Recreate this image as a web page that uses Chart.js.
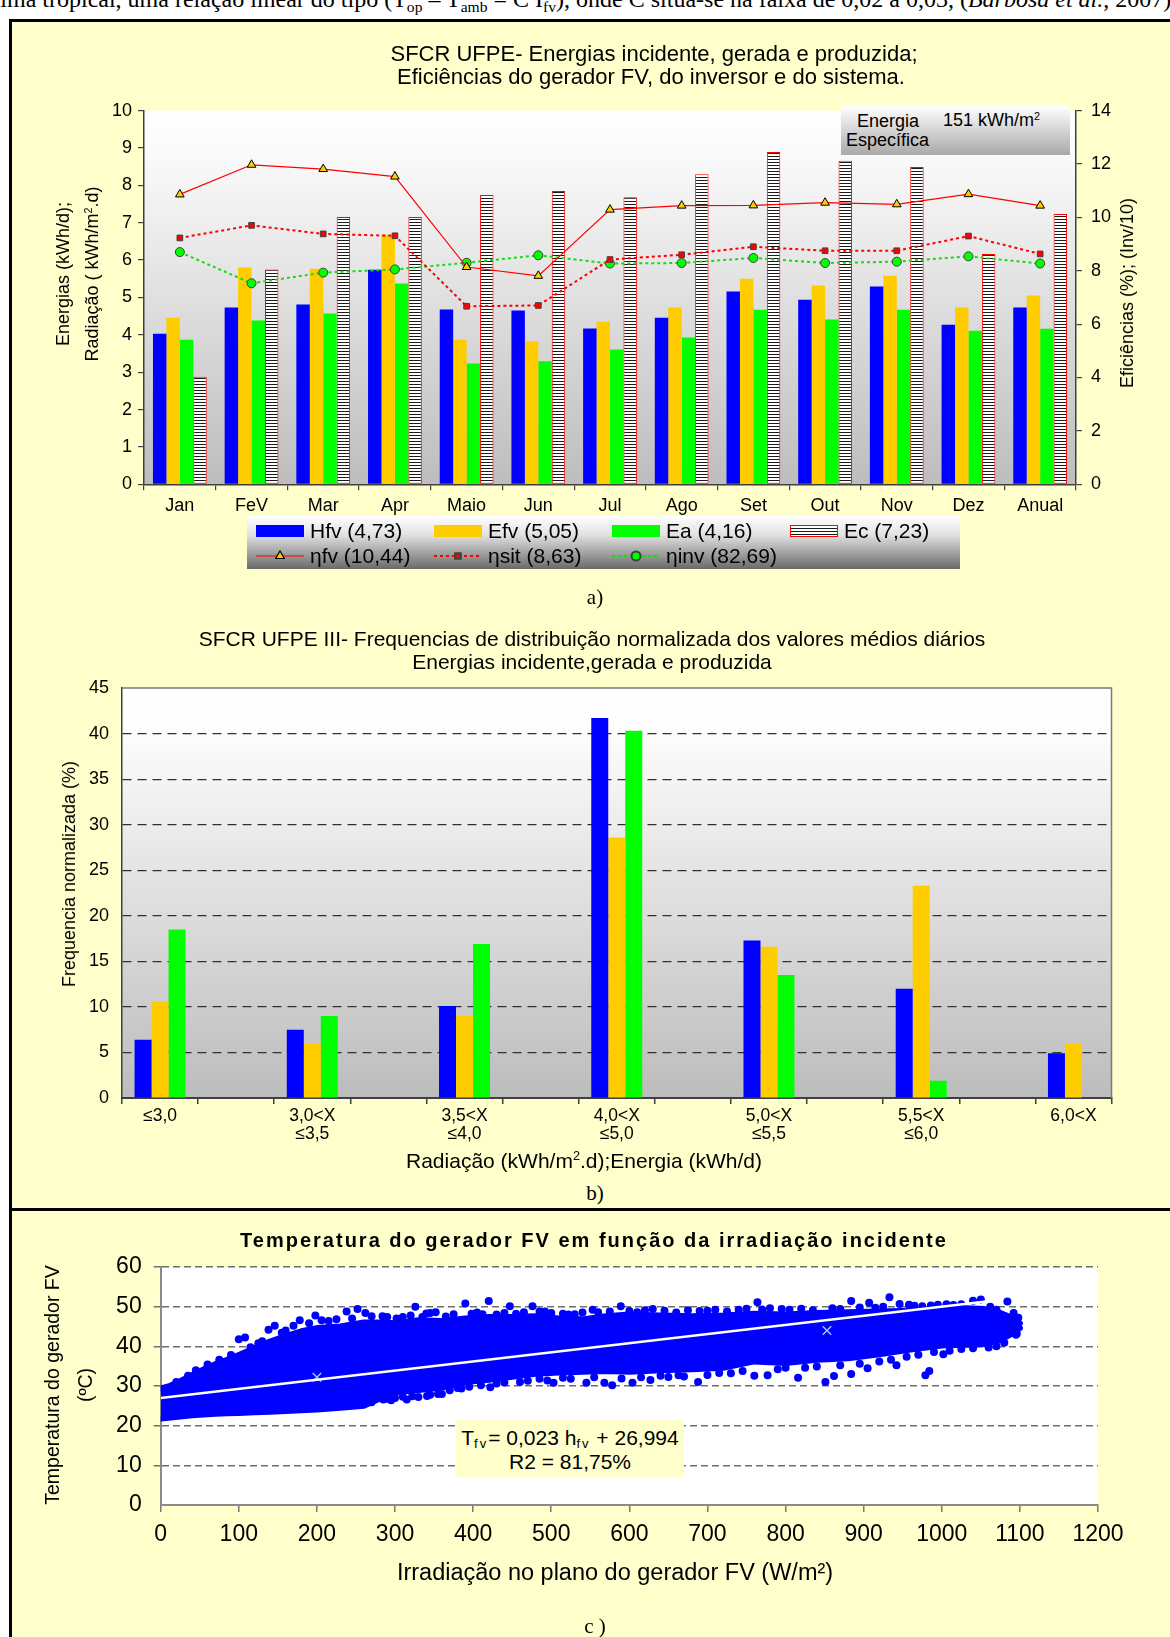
<!DOCTYPE html>
<html lang="pt">
<head>
<meta charset="utf-8">
<title>SFCR UFPE – energias, eficiências e temperatura</title>
<script src="https://cdn.jsdelivr.net/npm/chart.js@4.4.1/dist/chart.umd.min.js"></script>
<style>
  html, body { margin:0; padding:0; background:#fff; }
  #page { position:relative; width:1170px; height:1637px; overflow:hidden; font-family:"Liberation Sans", Arial, sans-serif; color:#000; }
  #frame { position:absolute; left:9px; top:19px; width:1200px; height:1700px; box-sizing:border-box; border:3px solid #000; background:#FFFFCC; }
  #rule { position:absolute; left:9px; top:1208px; width:1200px; height:3px; background:#000; }
  #prev { position:absolute; left:-17px; top:-13px; white-space:nowrap; font:24px/24px "Liberation Serif", serif; }
  #prev sub { font-size:65%; vertical-align:-0.3em; line-height:0; }
  canvas { position:absolute; left:0; }
  .t { position:absolute; white-space:nowrap; transform:translate(-50%,-50%); line-height:1; }
  .r { transform:translate(-50%,-50%) rotate(-90deg); }
  .cap { font-family:"Liberation Serif", serif; font-size:21px; }
  sup { font-size:60%; vertical-align:0.6em; line-height:0; }
  .eqs { font-size:62%; vertical-align:-0.3em; line-height:0; letter-spacing:2px; }
  #spec { position:absolute; left:841px; top:106px; width:229px; height:49px; background:linear-gradient(#ffffff, #a9a9a9); font-size:18px; }
  #spec div { position:absolute; white-space:nowrap; line-height:1; }
  #eq { position:absolute; left:456px; top:1420px; width:228px; height:57px; background:#FFFFCC; font-size:21px; }
</style>
</head>
<body>
<div id="page">
  <div id="prev">clima tropical, uma relação linear do tipo (T<sub>op</sub> – T<sub>amb</sub> = C I<sub>fv</sub>), onde C situa-se na faixa de 0,02 a 0,03, (<i>Barbosa et al.</i>, 2007)</div>
  <div id="frame"></div>
  <div id="rule"></div>

  <canvas id="chartA" width="1170" height="600" style="top:0"></canvas>
  <canvas id="chartB" width="1170" height="590" style="top:590px"></canvas>
  <canvas id="chartC" width="1170" height="425" style="top:1212px"></canvas>

  <!-- a) -->
  <div class="t" style="left:654px;top:54px;font-size:22px">SFCR UFPE- Energias incidente, gerada e produzida;</div>
  <div class="t" style="left:651px;top:77px;font-size:22px">Eficiências do gerador FV, do inversor e do sistema.</div>
  <div class="t r" style="left:63px;top:274px;font-size:18px">Energias (kWh/d);</div>
  <div class="t r" style="left:92px;top:274px;font-size:18px">Radiação ( kWh/m<sup>2</sup>.d)</div>
  <div class="t r" style="left:1127px;top:293px;font-size:18px">Eficiências (%); (Inv/10)</div>
  <div id="spec">
    <div style="left:16px;top:6px">Energia</div>
    <div style="left:102px;top:5px">151 kWh/m<sup>2</sup></div>
    <div style="left:5px;top:25px">Específica</div>
  </div>
  <div class="t cap" style="left:595px;top:597px">a)</div>

  <!-- b) -->
  <div class="t" style="left:592px;top:638px;font-size:21px">SFCR UFPE III- Frequencias de distribuição normalizada dos valores médios diários</div>
  <div class="t" style="left:592px;top:661px;font-size:21px">Energias incidente,gerada e produzida</div>
  <div class="t r" style="left:69px;top:874px;font-size:18px">Frequencia normalizada (%)</div>
  <div class="t" style="left:584px;top:1160px;font-size:21px">Radiação (kWh/m<sup>2</sup>.d);Energia (kWh/d)</div>
  <div class="t cap" style="left:595px;top:1193px">b)</div>

  <!-- c) -->
  <div class="t" style="left:594px;top:1240px;font-size:20px;font-weight:bold;letter-spacing:2px">Temperatura do gerador FV em função da irradiação incidente</div>
  <div class="t r" style="left:53px;top:1385px;font-size:19.5px">Temperatura do gerador FV</div>
  <div class="t r" style="left:86px;top:1385px;font-size:19.5px">(ºC)</div>
  <div class="t" style="left:615px;top:1573px;font-size:23.5px">Irradiação no plano do gerador FV (W/m²)</div>
  <div id="eq">
    <div class="t" style="left:114px;top:17px">T<span class="eqs">fv</span>= 0,023 h<span class="eqs">fv</span> + 26,994</div>
    <div class="t" style="left:114px;top:41px">R2 = 81,75%</div>
  </div>
  <div class="t cap" style="left:595px;top:1626px">c )</div>
</div>

<script>
// ---------- a) monthly energies (kWh/d, kWh/m².d) and efficiencies ----------
const months = ['Jan','FeV','Mar','Apr','Maio','Jun','Jul','Ago','Set','Out','Nov','Dez','Anual'];
const hfv    = [4.03, 4.73, 4.81, 5.74, 4.68, 4.65, 4.17, 4.46, 5.16, 4.94, 5.29, 4.27, 4.73];
const efv    = [4.46, 5.80, 5.77, 6.68, 3.87, 3.82, 4.35, 4.73, 5.50, 5.32, 5.58, 4.73, 5.05];
const ea     = [3.87, 4.38, 4.57, 5.37, 3.23, 3.29, 3.61, 3.93, 4.67, 4.41, 4.67, 4.11, 4.16];
const ec     = [2.88, 5.75, 7.15, 7.15, 7.74, 7.85, 7.68, 8.30, 8.89, 8.66, 8.49, 6.16, 7.23];
const etaFv  = [10.86, 11.97, 11.81, 11.53, 8.14, 7.81, 10.29, 10.44, 10.45, 10.55, 10.49, 10.87, 10.44];
const etaSit = [9.23, 9.70, 9.38, 9.31, 6.67, 6.70, 8.42, 8.60, 8.90, 8.75, 8.75, 9.30, 8.63];
const etaInv = [8.70, 7.53, 7.93, 8.05, 8.30, 8.58, 8.27, 8.29, 8.48, 8.29, 8.34, 8.54, 8.27];
const seriesNamesA = ['Hfv (4,73)', 'Efv (5,05)', 'Ea (4,16)', 'Ec (7,23)', 'ηfv (10,44)', 'ηsit (8,63)', 'ηinv (82,69)'];

// ---------- b) normalized frequency of daily mean values (%) ----------
const ranges  = [['≤3,0'], ['3,0<X','≤3,5'], ['3,5<X','≤4,0'], ['4,0<X','≤5,0'], ['5,0<X','≤5,5'], ['5,5<X','≤6,0'], ['6,0<X']];
const freqHfv = [6.4, 7.5, 10.1, 41.7, 17.3, 12.0, 4.9];
const freqEfv = [10.6, 6.0, 9.0, 28.6, 16.6, 23.3, 6.0];
const freqEa  = [18.5, 9.0, 16.9, 40.3, 13.5, 1.9, 0];

// ---------- c) PV generator temperature (ºC) vs plane irradiance (W/m²) ----------
// outline of the dense cloud of measurements
const cloudX      = [0, 10, 25, 40, 55, 70, 85, 100, 120, 140, 160, 180, 200, 230, 260, 280, 300, 330, 360, 390, 420, 450, 480, 510, 540, 570, 600, 640, 680, 720, 760, 800, 840, 880, 920, 960, 1000, 1030, 1055, 1075, 1090, 1100];
const cloudTop    = [29.4, 29.9, 31.2, 32.7, 34.2, 35.5, 36.6, 37.8, 39.5, 41.2, 42.6, 43.8, 44.6, 45.0, 46.0, 46.0, 45.8, 46.6, 46.4, 47.0, 47.4, 47.4, 47.6, 47.0, 46.8, 47.6, 48.0, 47.8, 47.6, 47.8, 48.2, 48.0, 48.4, 48.6, 48.8, 49.0, 49.2, 49.6, 49.4, 48.4, 47.2, 45.8];
const cloudBottom = [21.8, 22.0, 22.3, 22.6, 22.8, 23.0, 23.1, 23.2, 23.4, 23.5, 23.7, 23.9, 24.1, 24.5, 25.0, 26.8, 28.4, 29.0, 29.6, 31.0, 31.6, 32.3, 33.1, 33.4, 33.6, 33.8, 33.6, 34.0, 34.2, 34.6, 36.2, 35.8, 36.6, 37.0, 38.0, 39.2, 40.2, 40.4, 40.6, 41.6, 43.2, 44.6];
// isolated readings standing out of the cloud
const strayX = [100, 108, 138, 146, 178, 198, 206, 238, 252, 262, 284, 302, 326, 340, 352, 390, 398, 420, 447, 476, 492, 522, 553, 589, 630, 700, 764, 780, 884, 907, 933, 946, 958, 986, 1006, 1040, 1050, 1084, 1092, 1098, 1097, 1096,
                280, 290, 300, 315, 330, 341, 360, 380, 422, 460, 503, 545, 568, 578, 604, 627, 663, 688, 730, 760, 777, 816, 851, 862, 884, 905, 942, 979, 984, 1002, 1070,
                20, 35, 45, 60, 75, 90, 115, 125, 130, 155, 160, 170, 190, 215, 225, 245, 270, 290, 310, 320, 335, 345, 365, 375, 405, 412, 430, 440, 455, 465, 485, 500, 515, 530, 540, 560, 575, 600, 610, 620, 645, 660, 675, 690, 710, 725, 740, 750, 770, 795, 805, 820, 835, 860, 870, 895, 915, 925, 965, 975, 995, 1015, 1025, 1062, 1070,
                270, 285, 295, 310, 322, 345, 355, 370, 385, 395, 410, 430, 440, 470, 485, 495, 515, 525, 555, 590, 615, 640, 650, 670, 700, 715, 745, 790, 800, 825, 840, 870, 895, 920, 935, 955, 970, 990, 1010, 1025, 1040, 1060, 1080, 1095];
const strayY = [41.8, 42.2, 44.2, 45.2, 46.6, 47.8, 46.6, 48.8, 49.4, 48.4, 47.6, 47.0, 50.0, 48.3, 48.6, 50.8, 48.2, 51.4, 50.1, 50.1, 48.8, 48.0, 49.2, 50.1, 49.4, 49.0, 51.1, 49.6, 51.4, 51.0, 52.4, 50.7, 50.5, 50.3, 50.6, 51.5, 51.8, 51.3, 48.4, 47.2, 44.6, 43.2,
                27.0, 26.8, 27.0, 26.6, 27.2, 27.5, 28.0, 29.5, 29.7, 31.0, 30.8, 30.8, 30.8, 30.2, 30.8, 31.5, 32.7, 31.0, 33.2, 32.6, 32.7, 32.1, 31.0, 32.5, 33.0, 34.5, 35.2, 32.7, 33.8, 38.0, 40.0,
                31.0, 32.6, 34.0, 35.4, 36.6, 37.8, 39.8, 40.8, 41.3, 43.4, 44.0, 45.2, 45.8, 46.4, 46.8, 47.0, 47.6, 47.4, 47.4, 47.8, 47.4, 48.4, 47.5, 48.1, 48.5, 48.1, 48.0, 48.4, 48.2, 48.6, 48.8, 48.4, 48.2, 48.1, 48.5, 48.6, 48.8, 48.9, 48.6, 49.1, 49.0, 48.5, 49.1, 48.9, 49.2, 48.8, 49.2, 49.5, 49.3, 49.4, 49.2, 49.5, 49.1, 49.6, 49.4, 49.8, 49.7, 50.0, 50.2, 50.1, 50.5, 50.4, 50.6, 50.0, 49.2,
                25.9, 26.6, 26.4, 27.3, 27.4, 27.8, 28.0, 28.9, 29.4, 29.8, 30.2, 30.6, 30.9, 31.3, 31.8, 31.4, 32.1, 31.8, 32.2, 31.9, 32.2, 32.6, 32.3, 32.4, 32.8, 33.3, 33.8, 34.2, 34.6, 34.6, 34.9, 35.2, 35.6, 36.2, 36.6, 37.4, 37.9, 38.6, 38.9, 39.3, 39.5, 39.7, 40.9, 42.9];
// linear fit T = 0,023 h + 26,994 over the measured range
const fitSlope = 0.023, fitIntercept = 26.994, fitRange = [0, 1062];
const markX = [200, 853], markY = [32.2, 44.0];

// ---------- shared helpers ----------
Chart.defaults.font.family = '"Liberation Sans", Arial, sans-serif';
Chart.defaults.color = '#000';

const stripes = (() => {
  const c = document.createElement('canvas'); c.width = 4; c.height = 3;
  const g = c.getContext('2d');
  g.fillStyle = '#ffffff'; g.fillRect(0, 0, 4, 3);
  g.fillStyle = '#1a1a1a'; g.fillRect(0, 0, 4, 1);
  return g.createPattern(c, 'repeat');
})();

// gradient behind the plotting area
const plotBg = {
  id: 'plotBg',
  beforeDraw(chart, args, o) {
    const { ctx, chartArea: a } = chart;
    const g = ctx.createLinearGradient(0, a.top, 0, a.bottom);
    o.stops.forEach(([s, c]) => g.addColorStop(s, c));
    ctx.save(); ctx.fillStyle = g;
    ctx.fillRect(a.left, a.top, a.right - a.left, a.bottom - a.top);
    ctx.restore();
  }
};

// thin frame on the top and right side of the plotting area
const plotFrame = {
  id: 'plotFrame',
  afterDatasetsDraw(chart, args, o) {
    if (!o.color) return;
    const { ctx, chartArea: a } = chart;
    ctx.save(); ctx.strokeStyle = o.color; ctx.lineWidth = o.width;
    ctx.beginPath(); ctx.moveTo(a.left, a.top); ctx.lineTo(a.right, a.top); ctx.lineTo(a.right, a.bottom); ctx.stroke();
    ctx.restore();
  }
};

// boxed legend built from the dataset styles
const boxLegend = {
  id: 'boxLegend',
  afterDraw(chart, args, o) {
    const ctx = chart.ctx;
    ctx.save();
    const g = ctx.createLinearGradient(0, o.y, 0, o.y + o.h);
    o.fill.forEach(([s, c]) => g.addColorStop(s, c));
    ctx.fillStyle = g; ctx.fillRect(o.x, o.y, o.w, o.h);
    if (o.stroke) { ctx.strokeStyle = o.stroke; ctx.lineWidth = 1.5; ctx.strokeRect(o.x + .75, o.y + .75, o.w - 1.5, o.h - 1.5); }
    ctx.font = o.font; ctx.textBaseline = 'middle'; ctx.textAlign = 'left';
    chart.data.datasets.forEach((ds, i) => {
      const [sx, sy] = o.slots[i];
      if (ds.type === 'line') {
        ctx.strokeStyle = ds.borderColor; ctx.lineWidth = ds.borderWidth; ctx.setLineDash(ds.borderDash || []);
        ctx.beginPath(); ctx.moveTo(sx, sy); ctx.lineTo(sx + o.sw, sy); ctx.stroke(); ctx.setLineDash([]);
        ctx.fillStyle = ds.pointBackgroundColor; ctx.strokeStyle = ds.pointBorderColor;
        Chart.helpers.drawPoint(ctx, { pointStyle: ds.pointStyle, radius: ds.pointRadius, borderWidth: ds.pointBorderWidth, rotation: 0 }, sx + o.sw / 2, sy);
      } else {
        ctx.fillStyle = ds.backgroundColor; ctx.fillRect(sx, sy - o.sh / 2, o.sw, o.sh);
        if (ds.borderWidth) { ctx.strokeStyle = ds.borderColor; ctx.lineWidth = 1; ctx.strokeRect(sx + .5, sy - o.sh / 2 + .5, o.sw - 1, o.sh - 1); }
      }
      ctx.fillStyle = '#000';
      ctx.fillText(ds.label, sx + o.sw + o.gap, sy + 1);
    });
    ctx.restore();
  }
};

const base = { responsive: false, animation: false, events: [] };

// ---------- chart a ----------
const barA = (label, data, color, extra) => Object.assign({ type: 'bar', label, data, backgroundColor: color, borderWidth: 0, yAxisID: 'y', order: 1, categoryPercentage: 0.75, barPercentage: 1.0 }, extra || {});
const lineA = (label, data, extra) => Object.assign({ type: 'line', label, data, yAxisID: 'y2', order: 0, tension: 0, fill: false, pointBorderWidth: 1 }, extra);

new Chart(document.getElementById('chartA'), {
  data: {
    labels: months,
    datasets: [
      barA(seriesNamesA[0], hfv, '#0000FF'),
      barA(seriesNamesA[1], efv, '#FFCC00'),
      barA(seriesNamesA[2], ea, '#00FF00'),
      barA(seriesNamesA[3], ec, stripes, { borderColor: '#FF0000', borderWidth: 1, borderSkipped: false }),
      lineA(seriesNamesA[4], etaFv, { borderColor: '#FF0000', borderWidth: 1.2, pointStyle: 'triangle', pointRadius: 5, pointBackgroundColor: '#FFCC00', pointBorderColor: '#000' }),
      lineA(seriesNamesA[5], etaSit, { borderColor: '#FF0000', borderWidth: 2, borderDash: [3, 3], pointStyle: 'rect', pointRadius: 4, pointBackgroundColor: '#FF0000', pointBorderColor: '#404040' }),
      lineA(seriesNamesA[6], etaInv, { borderColor: '#11DD11', borderWidth: 2, borderDash: [3, 3], pointStyle: 'circle', pointRadius: 4.5, pointBackgroundColor: '#00FF00', pointBorderColor: '#404040' })
    ]
  },
  options: Object.assign({}, base, {
    layout: { padding: { top: 110.6, left: 0, right: 0, bottom: 0 } },
    scales: {
      x: {
        grid: { offset: true, drawOnChartArea: false, tickLength: 6, color: '#404040', lineWidth: 1.2 },
        border: { color: '#404040', width: 1.5 },
        ticks: { font: { size: 18 }, padding: 5, autoSkip: false, maxRotation: 0 },
        afterFit(s) { s.height = 115.7; }
      },
      y: {
        position: 'left', min: 0, max: 10,
        ticks: { stepSize: 1, font: { size: 18 }, padding: 6 },
        grid: { drawOnChartArea: false, tickLength: 6, color: '#404040', lineWidth: 1.2 },
        border: { color: '#404040', width: 1.5 },
        afterFit(s) { s.width = 144; }
      },
      y2: {
        position: 'right', min: 0, max: 14,
        ticks: { stepSize: 2, font: { size: 18 }, padding: 9 },
        grid: { drawOnChartArea: false, tickLength: 6, color: '#404040', lineWidth: 1.2 },
        border: { color: '#404040', width: 1.5 },
        afterFit(s) { s.width = 94; }
      }
    },
    plugins: {
      legend: { display: false }, tooltip: { enabled: false }, title: { display: false },
      plotBg: { stops: [[0, '#ffffff'], [0.15, '#f8f8f8'], [1, '#bdbdbd']] },
      boxLegend: {
        x: 247, y: 516, w: 713, h: 53, sw: 48, sh: 12, gap: 6,
        font: '21px "Liberation Sans", Arial, sans-serif',
        fill: [[0, '#ffffff'], [0.35, '#e2e2e2'], [1, '#6a6a6a']],
        slots: [[256, 531], [434, 531], [612, 531], [790, 531], [256, 556], [434, 556], [612, 556]]
      }
    }
  }),
  plugins: [plotBg, boxLegend]
});

// ---------- chart b ----------
// each range gets a slot, with an empty half-slot between ranges
const slotLabels = ranges.flatMap((r, i) => i < ranges.length - 1 ? [r, ''] : [r]);
const spread = vals => vals.flatMap((v, i) => i < vals.length - 1 ? [v, null] : [v]);
const barB = (label, data, color) => ({ type: 'bar', label, data: spread(data), backgroundColor: color, borderWidth: 0, categoryPercentage: 0.67, barPercentage: 1.0 });

new Chart(document.getElementById('chartB'), {
  type: 'bar',
  data: {
    labels: slotLabels,
    datasets: [barB('Hfv', freqHfv, '#0000FF'), barB('Efv', freqEfv, '#FFCC00'), barB('Ea', freqEa, '#00FF00')]
  },
  options: Object.assign({}, base, {
    layout: { padding: { top: 98, left: 0, right: 58.5, bottom: 0 } },
    scales: {
      x: {
        grid: { offset: true, drawOnChartArea: false, tickLength: 6, color: '#404040', lineWidth: 1.5 },
        border: { color: '#404040', width: 2 },
        ticks: { font: { size: 17.5, lineHeight: 1.05 }, padding: 3, autoSkip: false, maxRotation: 0 },
        afterFit(s) { s.height = 82; }
      },
      y: {
        min: 0, max: 45,
        ticks: { stepSize: 5, font: { size: 18 }, padding: 13 },
        grid: { drawTicks: false, lineWidth: 1.2, color: c => (c.tick.value === 0 || c.tick.value === 45) ? 'rgba(0,0,0,0)' : '#303030' },
        border: { color: '#404040', width: 1.5, dash: [9, 6] },
        afterFit(s) { s.width = 122; }
      }
    },
    plugins: {
      legend: { display: false }, tooltip: { enabled: false }, title: { display: false },
      plotBg: { stops: [[0, '#ffffff'], [0.1, '#fdfdfd'], [1, '#bcbcbc']] },
      plotFrame: { color: '#7a7a7a', width: 1.5 },
      boxLegend: {
        x: 1006, y: 707, w: 55, h: 65, sw: 10, sh: 10, gap: 4,
        font: '17px "Liberation Sans", Arial, sans-serif',
        fill: [[0, '#ffffff'], [1, '#ffffff']], stroke: '#505050',
        slots: [[1011, 718], [1011, 740], [1011, 761]]
      }
    }
  }),
  plugins: [plotBg, plotFrame, boxLegend]
});

// ---------- chart c ----------
const pts = (xs, ys) => xs.map((x, i) => ({ x, y: ys[i] }));

new Chart(document.getElementById('chartC'), {
  type: 'scatter',
  data: {
    datasets: [
      { label: 'nuvem', data: pts(cloudX, cloudTop), showLine: true, pointRadius: 0, borderColor: '#0000FF', borderWidth: 6, borderJoinStyle: 'round', borderCapStyle: 'round', backgroundColor: '#0000FF', fill: '+1', tension: 0, order: 2 },
      { label: 'nuvem inferior', data: pts(cloudX, cloudBottom), showLine: true, pointRadius: 0, borderColor: '#0000FF', borderWidth: 6, borderJoinStyle: 'round', borderCapStyle: 'round', fill: false, tension: 0, order: 2 },
      { label: 'Tfv', data: pts(strayX, strayY), pointRadius: 4, pointBackgroundColor: '#0000FF', pointBorderWidth: 0, order: 1 },
      { label: 'ajuste', data: fitRange.map(x => ({ x, y: fitSlope * x + fitIntercept })), showLine: true, pointRadius: 0, borderColor: '#ffffff', borderWidth: 2.5, order: 0 },
      { label: 'médias', data: pts(markX, markY), pointStyle: 'crossRot', pointRadius: 6, borderColor: '#9cc8ff', pointBorderColor: '#9cc8ff', pointBorderWidth: 1.5, order: 0 }
    ]
  },
  options: Object.assign({}, base, {
    layout: { padding: { top: 55, left: 0, right: 72, bottom: 0 } },
    scales: {
      x: {
        type: 'linear', min: 0, max: 1200,
        ticks: { stepSize: 100, font: { size: 23 }, padding: 9, callback: v => String(v) },
        grid: { drawOnChartArea: false, tickLength: 7, color: '#7a7a7a', lineWidth: 1.5 },
        border: { color: '#8a8a8a', width: 2 },
        afterFit(s) { s.height = 132; }
      },
      y: {
        min: 0, max: 60,
        ticks: { stepSize: 10, font: { size: 23 }, padding: 12, callback: v => String(v) },
        grid: { tickLength: 7, lineWidth: 1.5, color: c => c.tick.value === 0 ? 'rgba(0,0,0,0)' : '#6e6e6e', tickBorderDash: [7, 4] },
        border: { color: '#8a8a8a', width: 2, dash: [7, 4] },
        afterFit(s) { s.width = 160.7; }
      }
    },
    plugins: {
      legend: { display: false }, tooltip: { enabled: false }, title: { display: false },
      plotBg: { stops: [[0, '#ffffff'], [1, '#ffffff']] }
    }
  }),
  plugins: [plotBg]
});
</script>
</body>
</html>
